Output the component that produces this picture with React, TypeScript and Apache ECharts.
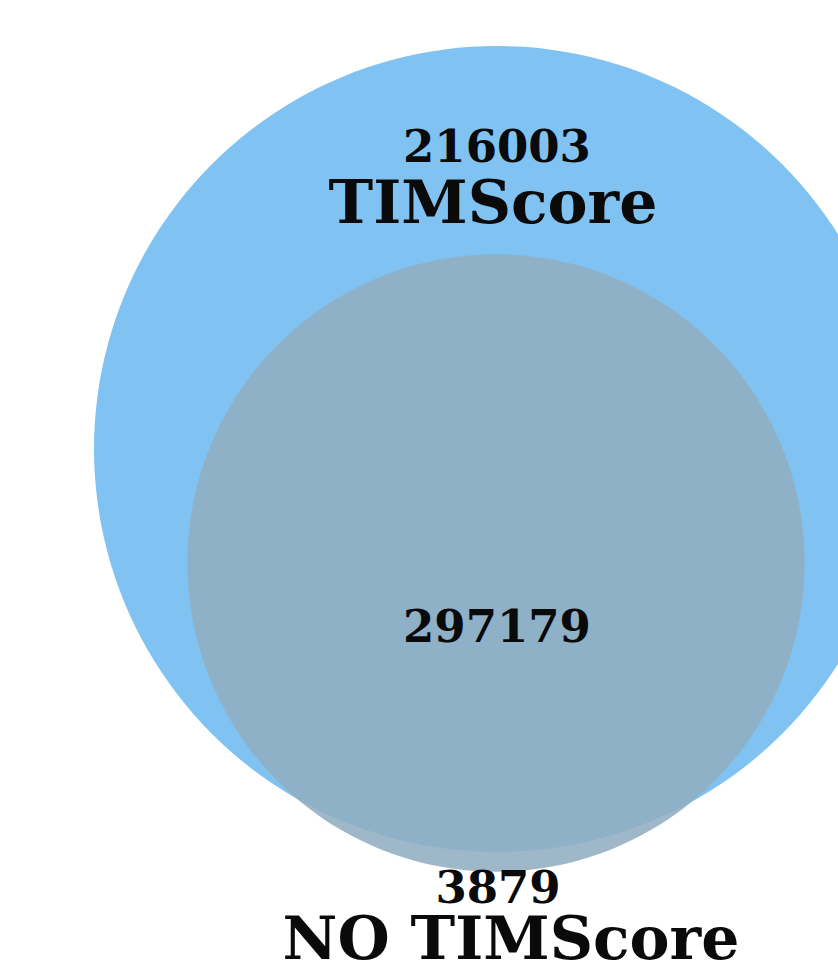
import React, { useEffect, useRef } from "react";
import * as echarts from "echarts";

// ---- data ----
const setNames = ["TIMScore", "NO TIMScore"];
const onlyCounts = [216003, 3879];
const overlapCount = 297179;

// ---- layout / style ----
const W = 838;
const H = 963;
const circleCenters = [
  [497, 449],
  [496, 563],
];
const bigRadius = 403;
const circleColors = ["#80C3F2", "#91AEC2"];
const circleOpacity = [1, 0.88];
const numberPos = [
  [497, 146],
  [498, 887],
];
const namePos = [
  [493, 202],
  [511, 938],
];
const overlapPos = [497, 626];
const numFont = 'bold 45px "DejaVu Serif"';
const nameFont = 'bold 60px "DejaVu Serif"';

export default function App() {
  const ref = useRef<HTMLDivElement>(null);
  useEffect(() => {
    if (!ref.current) return;
    const chart = echarts.init(ref.current, undefined, { renderer: "svg" });
    const totals = onlyCounts.map((c) => c + overlapCount);
    const k = bigRadius / Math.sqrt(totals[0]);
    const circleData = totals.map((t, i) => [
      circleCenters[i][0],
      circleCenters[i][1],
      k * Math.sqrt(t),
      i,
    ]);
    const labelData: any[] = [];
    onlyCounts.forEach((c, i) => {
      labelData.push([numberPos[i][0], numberPos[i][1], String(c), numFont]);
      labelData.push([namePos[i][0], namePos[i][1], setNames[i], nameFont]);
    });
    labelData.push([overlapPos[0], overlapPos[1], String(overlapCount), numFont]);

    chart.setOption({
      animation: false,
      backgroundColor: "#ffffff",
      grid: { left: 0, right: 0, top: 0, bottom: 0 },
      xAxis: { type: "value", min: 0, max: W, show: false },
      yAxis: { type: "value", min: 0, max: H, inverse: true, show: false },
      series: [
        {
          type: "custom",
          silent: true,
          clip: false,
          data: circleData,
          renderItem: (params: any, api: any) => {
            const p = api.coord([api.value(0), api.value(1)]);
            const r = api.size([api.value(2), 0])[0];
            const i = api.value(3);
            return {
              type: "circle",
              shape: { cx: p[0], cy: p[1], r },
              style: { fill: circleColors[i], opacity: circleOpacity[i] },
            };
          },
        },
        {
          type: "custom",
          silent: true,
          clip: false,
          data: labelData,
          dimensions: ["x", "y", "t", "f"],
          renderItem: (params: any, api: any) => {
            const d = labelData[params.dataIndex];
            const p = api.coord([d[0], d[1]]);
            return {
              type: "text",
              x: p[0],
              y: p[1],
              style: {
                text: d[2],
                font: d[3],
                fill: "#0a0a0a",
                align: "center",
                verticalAlign: "middle",
              },
            };
          },
        },
      ],
    });
    return () => chart.dispose();
  }, []);
  return (
    <div
      ref={ref}
      style={{ position: "fixed", left: 0, top: 0, width: W, height: H }}
    />
  );
}
